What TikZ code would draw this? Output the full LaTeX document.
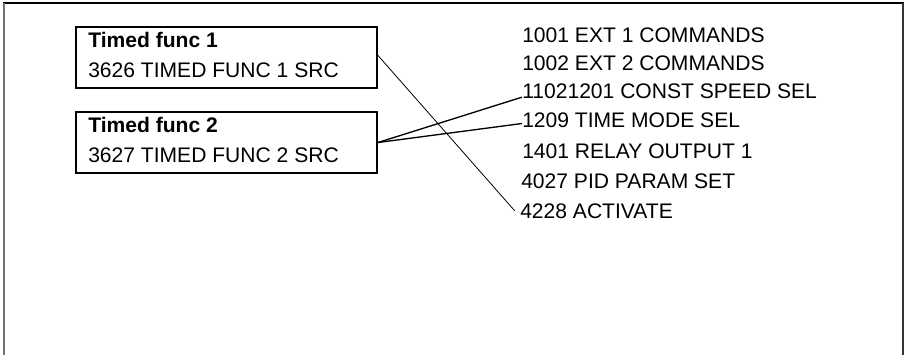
\documentclass[tikz,border=0pt]{standalone}
\usepackage{fontspec}
\setmainfont{Liberation Sans}
\begin{document}
\begin{tikzpicture}[x=0.75pt,y=-0.75pt,
  every node/.style={font=\fontsize{15.8}{18}\selectfont},
  fbox/.style={draw=black,line width=1.5pt,minimum width=301*0.75pt,minimum height=61*0.75pt,inner sep=0pt},
  lbl/.style={anchor=base west,inner sep=0pt},
  thinlink/.style={line width=0.6pt},
  link/.style={line width=1pt}]
\useasboundingbox (0,0) rectangle (906,355);
% frame
\draw[line width=1.2pt,black] (3,3) -- (903.5,3);
\draw[line width=1.6pt,black!55] (4.2,3) -- (4.2,355);
\draw[line width=1.2pt,black!80] (903,3) -- (903,355);
% boxes
\node[fbox] (b1) at (226.5,57.5) {};
\node[fbox] (b2) at (226.5,142.5) {};
\node[lbl,font=\fontsize{15.8}{18}\selectfont\bfseries] (b1t) at (88,47) {Timed func 1};
\node[lbl] (b1s) at (88,77) {3626 TIMED FUNC 1 SRC};
\node[lbl,font=\fontsize{15.8}{18}\selectfont\bfseries] (b2t) at (88,132) {Timed func 2};
\node[lbl] (b2s) at (88,162) {3627 TIMED FUNC 2 SRC};
% right column
\node[lbl] (t1001) at (522,42) {1001 EXT 1 COMMANDS};
\node[lbl] (t1002) at (522,70) {1002 EXT 2 COMMANDS};
\node[lbl] (t1102) at (522,98.5) {11021201 CONST SPEED SEL};
\node[lbl] (t1209) at (522,127.5) {1209 TIME MODE SEL};
\node[lbl] (t1401) at (522,158) {1401 RELAY OUTPUT 1};
\node[lbl] (t4027) at (521,188) {4027 PID PARAM SET};
\node[lbl] (t4228) at (520,218) {4228 ACTIVATE};
% connectors
\draw[thinlink] ([yshift=1.5pt]b1.east) -- ([xshift=-4pt]t4228.west);
\draw[link] (b2.east) -- ([yshift=1pt]t1102.base west);
\draw[link] (b2.east) -- ([yshift=3pt]t1209.base west);
\end{tikzpicture}
\end{document}
